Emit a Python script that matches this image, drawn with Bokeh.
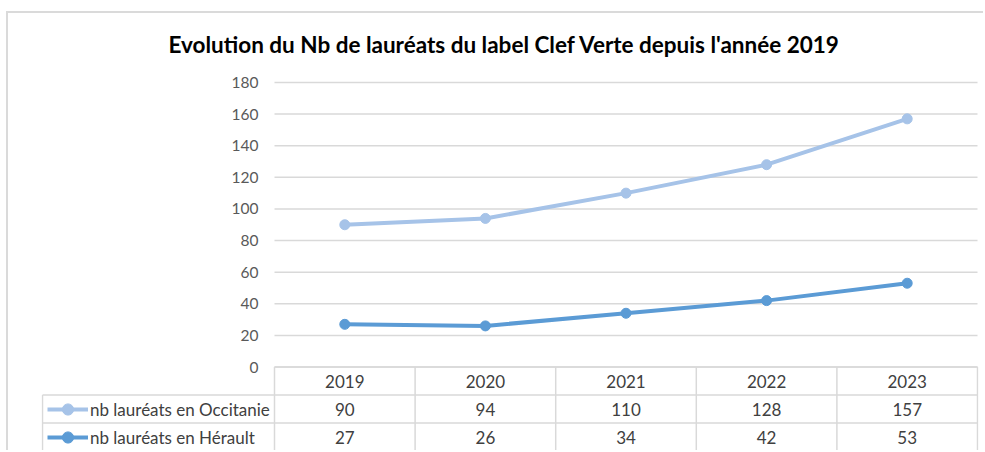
from bokeh.plotting import figure
from bokeh.models import Range1d, Legend, LegendItem
from bokeh.core.properties import value
from bokeh.embed import file_html
from bokeh.resources import INLINE

# ---- data ----
years = ["2019", "2020", "2021", "2022", "2023"]
occitanie = [90, 94, 110, 128, 157]
herault = [27, 26, 34, 42, 53]
y_ticks = [0, 20, 40, 60, 80, 100, 120, 140, 160, 180]
name_occ = "nb lauréats en Occitanie"
name_her = "nb lauréats en Hérault"
title_text = "Evolution du Nb de lauréats du label Clef Verte depuis l'année 2019"

# ---- layout constants (page pixels) ----
FIG_LEFT, FIG_TOP = 8, 13
FIG_W, FIG_H = 977, 439
FRAME_L, FRAME_R, FRAME_T, FRAME_B = 41, 978, 72, 452
Y0_PX, YTOP_PX = 366.5, 82.0          # pixel rows of value 0 and value 180
PPU = (Y0_PX - YTOP_PX) / y_ticks[-1]  # pixels per unit
ROW_H = 28.0                           # table row height
COL_L_PX, COL_R_PX = 274.0, 977.0      # plot area / table columns
TABLE_LEFT_PX = 42.0
COL_W = (COL_R_PX - COL_L_PX) / len(years)

x_start = -0.5 - (COL_L_PX - FRAME_L) / COL_W
x_end = -0.5 + (FRAME_R - COL_L_PX) / COL_W
y_start = -(FRAME_B - Y0_PX) / PPU
y_end = (Y0_PX - FRAME_T) / PPU
t_start = -(FRAME_B - Y0_PX) / ROW_H
t_end = (Y0_PX - FRAME_T) / ROW_H
x_table_left = -0.5 - (COL_L_PX - TABLE_LEFT_PX) / COL_W

FONT = "Lato"
GRID = "#d9d9d9"
TXT = "#404040"
C_OCC = "#a6c3e8"
C_HER = "#5b9bd5"

p = figure(width=FIG_W, height=FIG_H, output_backend="svg", toolbar_location=None,
           x_axis_type=None, y_axis_type=None,
           x_range=Range1d(x_start, x_end), y_range=Range1d(y_start, y_end),
           min_border_left=FRAME_L - FIG_LEFT, min_border_right=985 - FRAME_R,
           min_border_top=FRAME_T - FIG_TOP, min_border_bottom=0,
           title=title_text)
p.extra_y_ranges = {"table": Range1d(t_start, t_end)}
p.outline_line_color = None
p.background_fill_color = "white"
p.border_fill_color = "white"
p.styles = {"border-top": "2px solid #dadada", "border-left": "2px solid #dadada",
            "margin-top": "11px", "margin-left": "6px"}

p.title.align = "left"
p.title.offset = 168 - FRAME_L
p.title.text_font = FONT
p.title.text_font_size = "22.5px"
p.title.text_font_style = "bold"
p.title.text_color = "#000000"
p.title.standoff = 30

xs = list(range(len(years)))
n = len(years)

# horizontal gridlines
p.segment(x0=[-0.5] * len(y_ticks), x1=[n - 0.5] * len(y_ticks), y0=y_ticks, y1=y_ticks,
          line_color=GRID, line_width=1.5)
# y tick labels
p.text(x=[-0.5] * len(y_ticks), y=y_ticks, text=[str(t) for t in y_ticks],
       x_offset=-16, text_align="right", text_baseline="middle",
       text_font=value(FONT), text_font_size="15.5px", text_color="#595959")

# table borders
rows = [0, -1, -2, -3]
p.segment(x0=[-0.5, x_table_left, x_table_left, x_table_left],
          x1=[n - 0.5] * 4, y0=rows, y1=rows,
          line_color=GRID, line_width=1.5, y_range_name="table")
vx = [x_table_left] + [i - 0.5 for i in range(n + 1)]
p.segment(x0=vx, x1=vx, y0=[-1] + [0] * (n + 1), y1=[-3] * (n + 2),
          line_color=GRID, line_width=1.5, y_range_name="table")

# table texts
for row_y, texts in ((-0.5, years), (-1.5, [str(v) for v in occitanie]),
                     (-2.5, [str(v) for v in herault])):
    p.text(x=xs, y=[row_y] * n, text=texts, text_align="center", text_baseline="middle",
           text_font=value(FONT), text_font_size="17px", text_color=TXT,
           y_range_name="table")

# series
l1 = p.line(xs, occitanie, line_color=C_OCC, line_width=4, line_join="round")
s1 = p.scatter(xs, occitanie, size=10, color=C_OCC)
l2 = p.line(xs, herault, line_color=C_HER, line_width=4, line_join="round")
s2 = p.scatter(xs, herault, size=10, color=C_HER)

legend = Legend(items=[LegendItem(label=name_occ, renderers=[l1, s1]),
                       LegendItem(label=name_her, renderers=[l2, s2])],
                location=(6, 1), padding=0, margin=0, spacing=0,
                glyph_width=41, glyph_height=28, label_height=28, label_standoff=2,
                label_text_font=FONT, label_text_font_size="17px",
                label_text_color=TXT, label_text_baseline="middle",
                border_line_alpha=0, background_fill_alpha=0)
p.add_layout(legend, "center")

open("out.html", "w").write(file_html(p, INLINE))
